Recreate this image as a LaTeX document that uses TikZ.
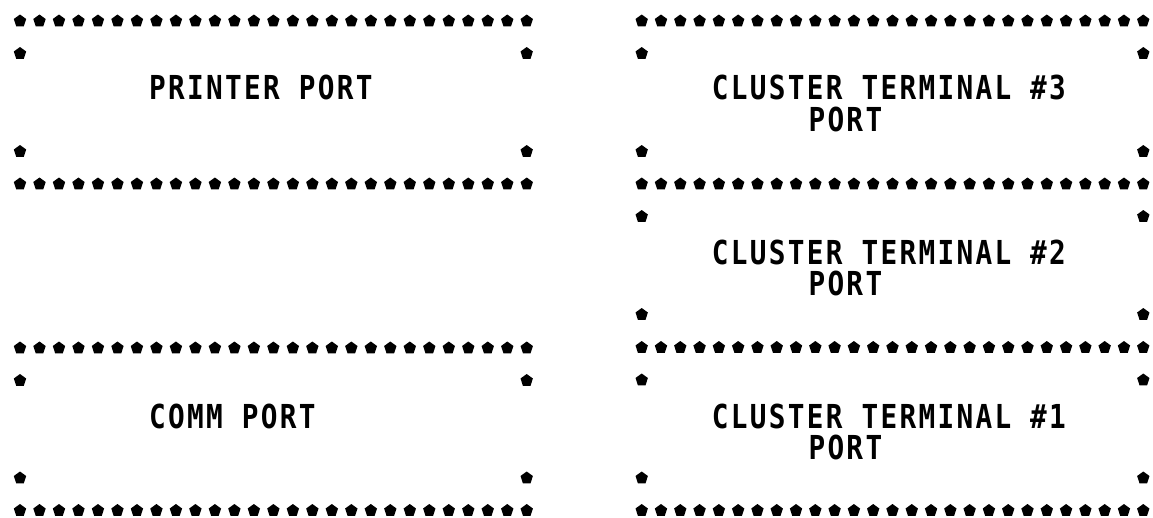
\documentclass[tikz,border=0pt]{standalone}
\usepackage{fontspec}
\usepackage{xcolor}
\usepackage{tikz}
\usetikzlibrary{shapes.geometric}

\newfontfamily\portfont{DejaVu Sans Mono}[FakeStretch=0.84,LetterSpace=7]

\begin{document}
\begin{tikzpicture}[
  x=1pt, y=-1pt,
  dotstar/.style={regular polygon, regular polygon sides=5, fill=black,
    inner sep=0pt, minimum size=13pt},
  porttext/.style={anchor=west, inner sep=0pt,
    font=\portfont\bfseries\fontsize{33}{31}\selectfont},
]
\useasboundingbox (0,0) rectangle (1153,517);

% Left column: rows of stars
\foreach \i in {0,...,26} {
  \node[dotstar] (lpt\i) at ({20+\i*19.49},21) {};
  \node[dotstar] (lpb\i) at ({20+\i*19.49},184) {};
  \node[dotstar] (lct\i) at ({20+\i*19.49},348) {};
  \node[dotstar] (lcb\i) at ({20+\i*19.49},510.5) {};
}
% Left column: side stars
\foreach \y [count=\k] in {53.5,151.5,380.5,478} {
  \node[dotstar] (lsl\k) at (20,\y) {};
  \node[dotstar] (lsr\k) at (526.7,\y) {};
}

% Right column: rows of stars
\foreach \i in {0,...,26} {
  \node[dotstar] (ra\i) at ({641.7+\i*19.29},21) {};
  \node[dotstar] (rb\i) at ({641.7+\i*19.29},184) {};
  \node[dotstar] (rc\i) at ({641.7+\i*19.29},347.5) {};
  \node[dotstar] (rd\i) at ({641.7+\i*19.29},510.5) {};
}
% Right column: side stars
\foreach \y [count=\k] in {53.5,151.5,216.5,314.5,380,478} {
  \node[dotstar] (rsl\k) at (641.7,\y) {};
  \node[dotstar] (rsr\k) at (1143.3,\y) {};
}

% Port labels
\node[porttext] (printer) at (149,87.5) {PRINTER PORT};
\node[porttext] (comm) at (149,416) {COMM PORT};

\node[porttext] (ct3) at (711.7,87.5) {CLUSTER TERMINAL \#3};
\node[porttext] (ct3p) at (808.3,119) {PORT};
\node[porttext] (ct2) at (711.7,252) {CLUSTER TERMINAL \#2};
\node[porttext] (ct2p) at (808.3,283.5) {PORT};
\node[porttext] (ct1) at (711.7,416) {CLUSTER TERMINAL \#1};
\node[porttext] (ct1p) at (808.3,447.5) {PORT};

\end{tikzpicture}
\end{document}
